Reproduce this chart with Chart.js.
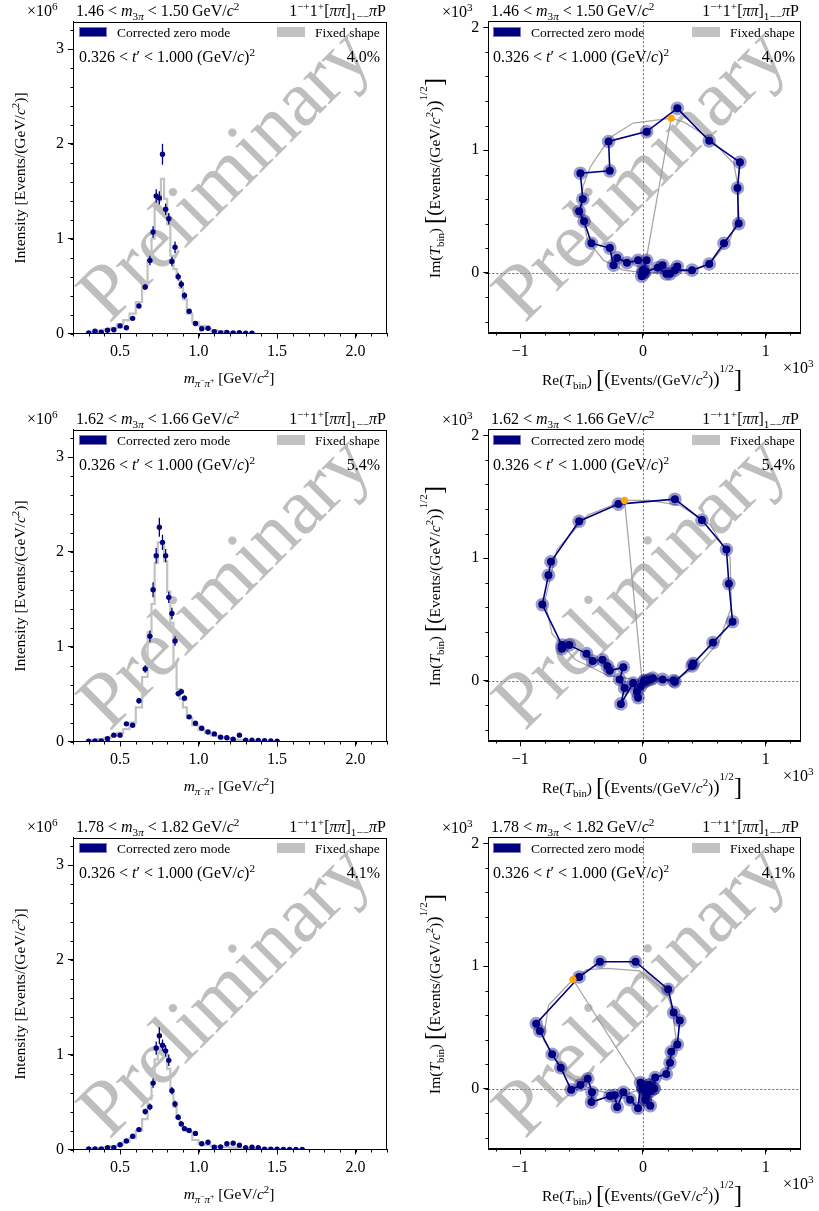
<!DOCTYPE html>
<html><head><meta charset="utf-8">
<script src="https://cdn.jsdelivr.net/npm/chart.js"></script>
<style>
body{margin:0;background:#fff;width:819px;height:1211px;position:relative;overflow:hidden;font-family:"Liberation Serif","Times New Roman",serif;color:#000}
canvas{position:absolute}
.t{position:absolute;white-space:nowrap;line-height:1}
.box{position:absolute;width:28px;height:10px;box-sizing:border-box}
i{font-style:italic}
sup,sub{font-size:70%;line-height:0}
</style></head><body>
<script>
// ---------------- DATA ----------------
const massBins = [0.30,0.34,0.38,0.42,0.46,0.50,0.54,0.58,0.62,0.66,
  0.69,0.71,0.73,0.75,0.77,0.79,0.81,0.83,0.85,0.87,0.89,0.91,
  0.94,0.98,1.02,1.06,1.10,1.14,1.18,1.22,1.26,1.30,1.34,1.38,1.42,1.46,1.50,1.54,1.58,1.62,1.66];

const leftXTicks = [0.5,1.0,1.5,2.0];
const leftYTicks = [0,1,2,3];
const rightXTicks = [-1,0,1];
const rightYTicks = [0,1,2];

// top row: 1.46 < m3pi < 1.50
const topIntensity = [0.005,0.025,0.015,0.035,0.04,0.08,0.06,0.16,0.29,0.49,
  0.77,1.07,1.45,1.43,1.89,1.31,1.21,0.76,0.91,0.60,0.52,0.40,
  0.235,0.105,0.05,0.055,0.02,0.007,0.01,0.005,0.008,0.004,0.003];
const topErrors = [0.005,0.008,0.008,0.01,0.01,0.012,0.012,0.015,0.025,0.03,
  0.05,0.06,0.07,0.07,0.11,0.06,0.06,0.05,0.06,0.04,0.04,0.035,
  0.02,0.012,0.01,0.01,0.006,0.004,0.004,0.003,0.003,0.002,0.002];
const topFixed = [0.01,0.02,0.03,0.045,0.06,0.10,0.14,0.21,0.33,0.50,
  0.77,1.00,1.32,1.40,1.63,1.42,1.15,0.82,0.68,0.58,0.48,0.36,
  0.21,0.12,0.08,0.05,0.035,0.025,0.015,0.01,0.008,0.005,0.003];
const topRe = [0.01,0.16,0.12,0.19,0.22,0.28,0.26,0.40,0.54,0.66,
  0.78,0.77,0.79,0.54,0.28,0.03,-0.28,-0.27,-0.51,-0.49,-0.52,-0.48,
  -0.42,-0.27,-0.24,-0.21,-0.13,-0.04,0.03,0.00,-0.01,0.02,0.00];
const topIm = [0.00,0.06,0.04,-0.01,-0.01,0.05,0.02,0.02,0.07,0.24,
  0.40,0.69,0.90,1.075,1.34,1.15,1.07,0.83,0.81,0.60,0.50,0.42,
  0.24,0.20,0.06,0.12,0.08,0.10,0.10,0.02,-0.03,0.01,0.00];
const topFixedRe = [0.23,0.02,0.00,0.15,0.40,0.55,0.71,0.77,0.78,0.74,0.54,0.33,0.23,-0.08,-0.27,-0.43,-0.49,-0.50,-0.45,-0.32,-0.16,0.00];
const topFixedIm = [1.26,0.07,0.00,0.00,0.01,0.08,0.27,0.45,0.67,0.89,1.10,1.23,1.26,1.22,1.10,0.86,0.70,0.48,0.26,0.10,0.02,0.00];
const topOrange = [0.23,1.26];

// middle row: 1.62 < m3pi < 1.66
const midIntensity = [0.002,0.005,0.007,0.03,0.067,0.067,0.186,0.172,0.43,0.765,
  1.11,1.60,1.96,2.26,2.10,1.96,1.52,1.35,1.06,0.505,0.526,0.456,
  0.26,0.193,0.14,0.10,0.08,0.046,0.039,0.025,0.067,0.014,0.014,0.01,0.008,0.005,0.003];
const midErrors = [0.003,0.005,0.006,0.01,0.012,0.012,0.018,0.018,0.03,0.04,
  0.06,0.08,0.08,0.10,0.08,0.07,0.06,0.06,0.05,0.03,0.03,0.03,
  0.015,0.012,0.01,0.008,0.007,0.006,0.005,0.004,0.005,0.003,0.003,0.002,0.002,0.002,0.002];
const midFixed = [0.01,0.015,0.025,0.04,0.06,0.09,0.13,0.20,0.36,0.68,
  1.15,1.45,1.88,2.10,2.08,1.90,1.58,1.25,0.80,0.55,0.45,0.36,
  0.25,0.17,0.12,0.09,0.065,0.05,0.035,0.025,0.018,0.012,0.008,0.005,0.004,0.002,0.001];
const midRe = [0.01,0.06,0.08,0.16,0.25,0.26,0.40,0.41,0.57,0.73,
  0.70,0.68,0.48,0.26,-0.20,-0.52,-0.75,-0.77,-0.82,-0.66,-0.66,-0.60,
  -0.46,-0.41,-0.33,-0.29,-0.27,-0.16,-0.19,-0.15,-0.18,-0.08,-0.05,-0.04,-0.02,0.01,0.03];
const midIm = [0.00,0.01,0.02,0.01,0.00,-0.01,0.12,0.14,0.31,0.48,
  0.79,1.07,1.31,1.48,1.44,1.30,0.97,0.86,0.62,0.29,0.26,0.29,
  0.22,0.16,0.17,0.12,0.08,0.11,0.01,-0.06,-0.19,-0.02,-0.09,-0.14,-0.05,-0.01,0.00];
const midFixedRe = [-0.15,-0.01,0.00,0.25,0.45,0.62,0.72,0.71,0.55,0.30,0.05,-0.15,-0.45,-0.70,-0.80,-0.74,-0.55,-0.28,0.00];
const midFixedIm = [1.47,0.03,0.00,0.00,0.12,0.32,0.60,1.00,1.27,1.43,1.47,1.47,1.35,1.07,0.65,0.38,0.17,0.04,0.00];
const midOrange = [-0.15,1.47];

// bottom row: 1.78 < m3pi < 1.82
const botIntensity = [0.007,0.007,0.007,0.018,0.02,0.05,0.09,0.14,0.21,0.40,
  0.45,0.70,1.07,1.20,1.10,1.04,0.94,0.62,0.48,0.34,0.27,0.22,
  0.20,0.17,0.06,0.077,0.025,0.028,0.06,0.067,0.046,0.018,0.025,0.018,0.004,0.002,0.002,0.001,0.001,0.001,0.001];
const botErrors = [0.004,0.004,0.004,0.006,0.006,0.01,0.012,0.015,0.02,0.03,
  0.035,0.05,0.07,0.09,0.06,0.06,0.06,0.04,0.035,0.03,0.025,0.02,
  0.015,0.015,0.01,0.01,0.006,0.006,0.008,0.008,0.007,0.005,0.005,0.004,0.003,0.002,0.002,0.002,0.002,0.002,0.002];
const botFixed = [0.006,0.01,0.015,0.025,0.035,0.05,0.08,0.12,0.20,0.32,
  0.53,0.70,0.95,1.06,1.08,1.00,0.85,0.62,0.45,0.33,0.27,0.22,
  0.19,0.10,0.06,0.045,0.035,0.03,0.025,0.02,0.017,0.014,0.012,0.01,0.008,0.006,0.005,0.004,0.003,0.002,0.002];
const botRe = [0.05,0.02,0.06,0.09,0.10,0.19,0.22,0.23,0.28,0.30,
  0.25,0.205,-0.06,-0.35,-0.52,-0.87,-0.84,-0.74,-0.67,-0.585,-0.51,-0.45,
  -0.415,-0.42,-0.27,-0.23,-0.21,-0.16,-0.105,-0.04,-0.02,0.06,0.02,0.05,0.09,0.03,0.00,0.01,0.00,0.01,0.00];
const botIm = [0.03,-0.09,-0.02,0.00,0.09,0.12,0.21,0.30,0.36,0.555,
  0.62,0.81,1.035,1.035,0.91,0.53,0.47,0.28,0.17,-0.01,0.03,0.08,
  -0.03,-0.11,-0.06,-0.055,-0.15,-0.03,-0.09,-0.16,0.05,-0.14,-0.09,0.03,0.00,-0.05,0.01,0.00,0.00,0.01,0.00];
const botFixedRe = [-0.57,-0.05,0.00,0.18,0.27,0.24,0.19,-0.03,-0.29,-0.46,-0.57,-0.77,-0.81,-0.65,-0.43,-0.19,0.00];
const botFixedIm = [0.89,0.07,0.00,0.13,0.40,0.64,0.79,0.96,0.98,0.97,0.89,0.68,0.40,0.13,0.00,-0.06,0.00];
const botOrange = [-0.57,0.89];

const rowLow = ['1.46','1.62','1.78'];
const rowHigh = ['1.50','1.66','1.82'];
const rowPct = ['4.0%','5.4%','4.1%'];

// ---------------- STYLE ----------------
const FONT = '"Liberation Serif","Times New Roman",serif';
const NAVY = '#000080';
const HALO = 'rgba(20,20,130,0.42)';
const GRAYSTEP = '#c2c2c2';
const GRAYLINE = 'rgba(150,150,150,0.85)';
const ORANGE = '#ffa500';
const ROW_DY = 408;

const rows = [
  {I:topIntensity,E:topErrors,F:topFixed,re:topRe,im:topIm,fre:topFixedRe,fim:topFixedIm,o:topOrange},
  {I:midIntensity,E:midErrors,F:midFixed,re:midRe,im:midIm,fre:midFixedRe,fim:midFixedIm,o:midOrange},
  {I:botIntensity,E:botErrors,F:botFixed,re:botRe,im:botIm,fre:botFixedRe,fim:botFixedIm,o:botOrange}
];

// ---------------- PLUGINS ----------------
const decoPlugin = {
  id:'deco',
  beforeDatasetsDraw(chart, args, o){
    const {ctx, chartArea:a, scales} = chart;
    ctx.save();
    if (o.zeroLines){
      ctx.strokeStyle='#555'; ctx.lineWidth=0.9; ctx.setLineDash([2,2]);
      const x0 = Math.round(scales.x.getPixelForValue(0))+0.5;
      const y0 = Math.round(scales.y.getPixelForValue(0))+0.5;
      ctx.beginPath(); ctx.moveTo(x0,a.top); ctx.lineTo(x0,a.bottom);
      ctx.moveTo(a.left,y0); ctx.lineTo(a.right,y0); ctx.stroke();
      ctx.setLineDash([]);
    }
    // watermark
    ctx.translate(a.left+o.wmx, a.top+o.wmy);
    ctx.rotate(-o.wmAngle*Math.PI/180);
    ctx.font = o.wmSize+'px '+FONT;
    ctx.fillStyle='rgba(150,150,150,0.62)';
    ctx.textAlign='center'; ctx.textBaseline='alphabetic';
    ctx.fillText('Preliminary',0,0);
    ctx.restore();
  },
  afterDatasetsDraw(chart, args, o){
    const {ctx, scales} = chart;
    if (o.errors){
      ctx.save(); ctx.strokeStyle=NAVY; ctx.lineWidth=1.3;
      o.errors.forEach((e,i)=>{
        const x = scales.x.getPixelForValue(o.ex[i]);
        const y1 = scales.y.getPixelForValue(o.ey[i]-e);
        const y2 = scales.y.getPixelForValue(o.ey[i]+e);
        ctx.beginPath(); ctx.moveTo(x,y1); ctx.lineTo(x,y2); ctx.stroke();
      });
      ctx.restore();
    }
  },
  afterDraw(chart, args, o){
    const {ctx, chartArea:a, scales} = chart;
    ctx.save(); ctx.strokeStyle='#000'; ctx.lineWidth=1;
    const L=Math.round(a.left)+0.5, R=Math.round(a.right)-0.5, T=Math.round(a.top)+0.5, B=Math.round(a.bottom)-0.5;
    ctx.strokeRect(L,T,R-L,B-T);
    // minor ticks
    ctx.beginPath();
    const sx=scales.x, sy=scales.y;
    for (let k=Math.ceil(sx.min/o.xMinor-1e-9); k*o.xMinor<=sx.max+1e-9; k++){
      const px=Math.round(sx.getPixelForValue(k*o.xMinor))+0.5;
      ctx.moveTo(px,B); ctx.lineTo(px,B+3);
    }
    for (let k=Math.ceil(sy.min/o.yMinor-1e-9); k*o.yMinor<=sy.max+1e-9; k++){
      const py=Math.round(sy.getPixelForValue(k*o.yMinor))+0.5;
      ctx.moveTo(L,py); ctx.lineTo(L-3,py);
    }
    ctx.stroke(); ctx.restore();
  }
};

function fmtMinus(v){ return String(v).replace('-','\u2212'); }

function axisCommon(){
  return {
    ticks:{font:{family:FONT,size:16}, color:'#000', padding:4, maxRotation:0, autoSkip:false},
    grid:{drawOnChartArea:false, drawTicks:true, tickLength:5, tickColor:'#000', tickWidth:1, color:'#000'},
    border:{display:true, color:'#000', width:1}
  };
}

const WM = {wmx:169, wmy:170, wmAngle:45, wmSize:79.5};

function leftChart(r, row){
  const c=document.createElement('canvas'); c.width=410; c.height=400;
  c.style.left='0px'; c.style.top=(row*ROW_DY)+'px'; document.body.appendChild(c);
  const n=r.I.length, bins=massBins.slice(0,n);
  const pts=bins.map((x,i)=>({x, y:r.I[i]}));
  const step=[];
  for(let i=0;i<n;i++){
    const lo = i===0 ? bins[0]-(bins[1]-bins[0])/2 : (bins[i-1]+bins[i])/2;
    const hi = i===n-1 ? bins[i]+(bins[i]-bins[i-1])/2 : (bins[i]+bins[i+1])/2;
    step.push({x:lo,y:r.F[i]},{x:hi,y:r.F[i]});
  }
  const X=axisCommon(), Y=axisCommon();
  Object.assign(X,{type:'linear',min:0.2,max:2.2,
    afterBuildTicks:s=>{s.ticks=leftXTicks.map(v=>({value:v}));},
    afterFit:s=>{s.height=66.5;}});
  X.ticks.callback=v=>Number(v).toFixed(1);
  Object.assign(Y,{type:'linear',min:0,max:3.29,
    afterBuildTicks:s=>{s.ticks=leftYTicks.map(v=>({value:v}));},
    afterFit:s=>{s.width=73;}});
  Y.ticks.callback=v=>String(v);
  new Chart(c,{type:'scatter',
    data:{datasets:[
      {data:pts, pointRadius:2.7, pointHoverRadius:2.7, backgroundColor:NAVY, borderWidth:0, order:0},
      {data:step, showLine:true, pointRadius:0, borderColor:GRAYSTEP, borderWidth:2.2, order:1}
    ]},
    options:{responsive:false, animation:false, devicePixelRatio:1,
      layout:{padding:{top:21.5,right:23,left:0,bottom:0}},
      plugins:{legend:{display:false}, tooltip:{enabled:false},
        deco:Object.assign({zeroLines:false, errors:r.E, ex:bins, ey:r.I, xMinor:0.1, yMinor:0.2}, WM)},
      scales:{x:X,y:Y}},
    plugins:[decoPlugin]});
}

function rightChart(r, row){
  const c=document.createElement('canvas'); c.width=409; c.height=400;
  c.style.left='410px'; c.style.top=(row*ROW_DY)+'px'; document.body.appendChild(c);
  const pts=r.re.map((x,i)=>({x, y:r.im[i]}));
  const fpts=r.fre.map((x,i)=>({x, y:r.fim[i]}));
  const X=axisCommon(), Y=axisCommon();
  Object.assign(X,{type:'linear',min:-1.26,max:1.285,
    afterBuildTicks:s=>{s.ticks=rightXTicks.map(v=>({value:v}));},
    afterFit:s=>{s.height=66.7;}});
  X.ticks.callback=v=>fmtMinus(v);
  Object.assign(Y,{type:'linear',min:-0.495,max:2.05,
    afterBuildTicks:s=>{s.ticks=rightYTicks.map(v=>({value:v}));},
    afterFit:s=>{s.width=78.3;}});
  Y.ticks.callback=v=>fmtMinus(v);
  new Chart(c,{type:'scatter',
    data:{datasets:[
      {data:[{x:r.o[0],y:r.o[1]}], pointRadius:3.6, backgroundColor:ORANGE, borderWidth:0, order:0},
      {data:pts, showLine:true, borderColor:NAVY, borderWidth:1.6, pointRadius:4, backgroundColor:NAVY, pointBorderWidth:0, order:1},
      {data:pts, pointRadius:6.8, backgroundColor:HALO, borderWidth:0, order:2},
      {data:fpts, showLine:true, borderColor:GRAYLINE, borderWidth:1.3, pointRadius:0, order:3}
    ]},
    options:{responsive:false, animation:false, devicePixelRatio:1,
      layout:{padding:{top:21.3,right:18.3,left:0,bottom:0}},
      plugins:{legend:{display:false}, tooltip:{enabled:false},
        deco:Object.assign({zeroLines:true, xMinor:0.2, yMinor:0.2}, WM)},
      scales:{x:X,y:Y}},
    plugins:[decoPlugin]});
}

// ---------------- TEXT ----------------
function T(html, x, y, size, anchor, rot){
  const d=document.createElement('div'); d.className='t';
  d.innerHTML=html; d.style.left=x+'px'; d.style.top=y+'px'; d.style.fontSize=size+'px';
  const tx = anchor==='r' ? '-100%' : anchor==='c' ? '-50%' : '0';
  d.style.transform='translate('+tx+',-50%)';
  if(rot){ d.style.transform='translate(-50%,-50%) rotate('+rot+'deg)'; }
  d.style.zIndex=5; document.body.appendChild(d); return d;
}
function B(x,y,color,border){
  const d=document.createElement('div'); d.className='box';
  d.style.left=x+'px'; d.style.top=y+'px'; d.style.background=color;
  if(border) d.style.border='1px solid '+border;
  d.style.zIndex=5; document.body.appendChild(d);
}

const waveTitle='1<sup>\u2212+</sup>1<sup>+</sup>[<i>\u03c0\u03c0</i>]<sub>1\u2212\u2212</sub><i>\u03c0</i>P';
const tprime='0.326 &lt; <i>t</i>\u2032 &lt; 1.000 (GeV/<i>c</i>)<sup>2</sup>';
const bigL='<span style="font-size:25px;position:relative;top:2px">[</span><span style="font-size:19px">(</span>';
const bigR='<span style="font-size:19px">)</span><sup style="font-size:11px;position:relative;top:-7px">1/2</sup><span style="font-size:25px;position:relative;top:2px">]</span>';
const tbin='(<i>T</i><sub>bin</sub>)';

rows.forEach((r,row)=>{
  leftChart(r,row); rightChart(r,row);
  const dy=row*ROW_DY;
  const title=rowLow[row]+' &lt; <i>m</i><sub>3<i>\u03c0</i></sub> &lt; '+rowHigh[row]+'\u2009GeV/<i>c</i><sup>2</sup>';
  // left panel
  T('\u00d710<sup>6</sup>',27,dy+11,16,'l');
  T(title,76,dy+11,16,'l');
  T(waveTitle,386,dy+11,16,'r');
  B(79,dy+27,NAVY,'#7c7cb8'); T('Corrected zero mode',117,dy+32.5,13.5,'l');
  B(277,dy+27,'#c2c2c2'); T('Fixed shape',315,dy+32.5,13.5,'l');
  T(tprime,79,dy+57,16,'l');
  T(rowPct[row],380,dy+57,16,'r');
  T('Intensity [Events/(GeV/<i>c</i><sup>2</sup>)]',20,dy+178,15.5,'c',-90);
  T('<i>m</i><sub><i>\u03c0</i><sup>\u2212</sup><i>\u03c0</i><sup>+</sup></sub> [GeV/<i>c</i><sup>2</sup>]',229,dy+378,15.5,'c');
  // right panel
  T('\u00d710<sup>3</sup>',442,dy+12,16,'l');
  T(title,491,dy+11,16,'l');
  T(waveTitle,799,dy+11,16,'r');
  B(493,dy+27,NAVY,'#7c7cb8'); T('Corrected zero mode',531,dy+32.5,13.5,'l');
  B(692,dy+27,'#c2c2c2'); T('Fixed shape',730,dy+32.5,13.5,'l');
  T(tprime,493,dy+57,16,'l');
  T(rowPct[row],795,dy+57,16,'r');
  T('Im'+tbin+' '+bigL+'Events/(GeV/<i>c</i><sup>2</sup>)'+bigR,431,dy+178,15.5,'c',-90);
  T('Re'+tbin+' '+bigL+'Events/(GeV/<i>c</i><sup>2</sup>)'+bigR,642,dy+376,15.5,'c');
  T('\u00d710<sup>3</sup>',783,dy+368,16,'l');
});
</script>
</body></html>
